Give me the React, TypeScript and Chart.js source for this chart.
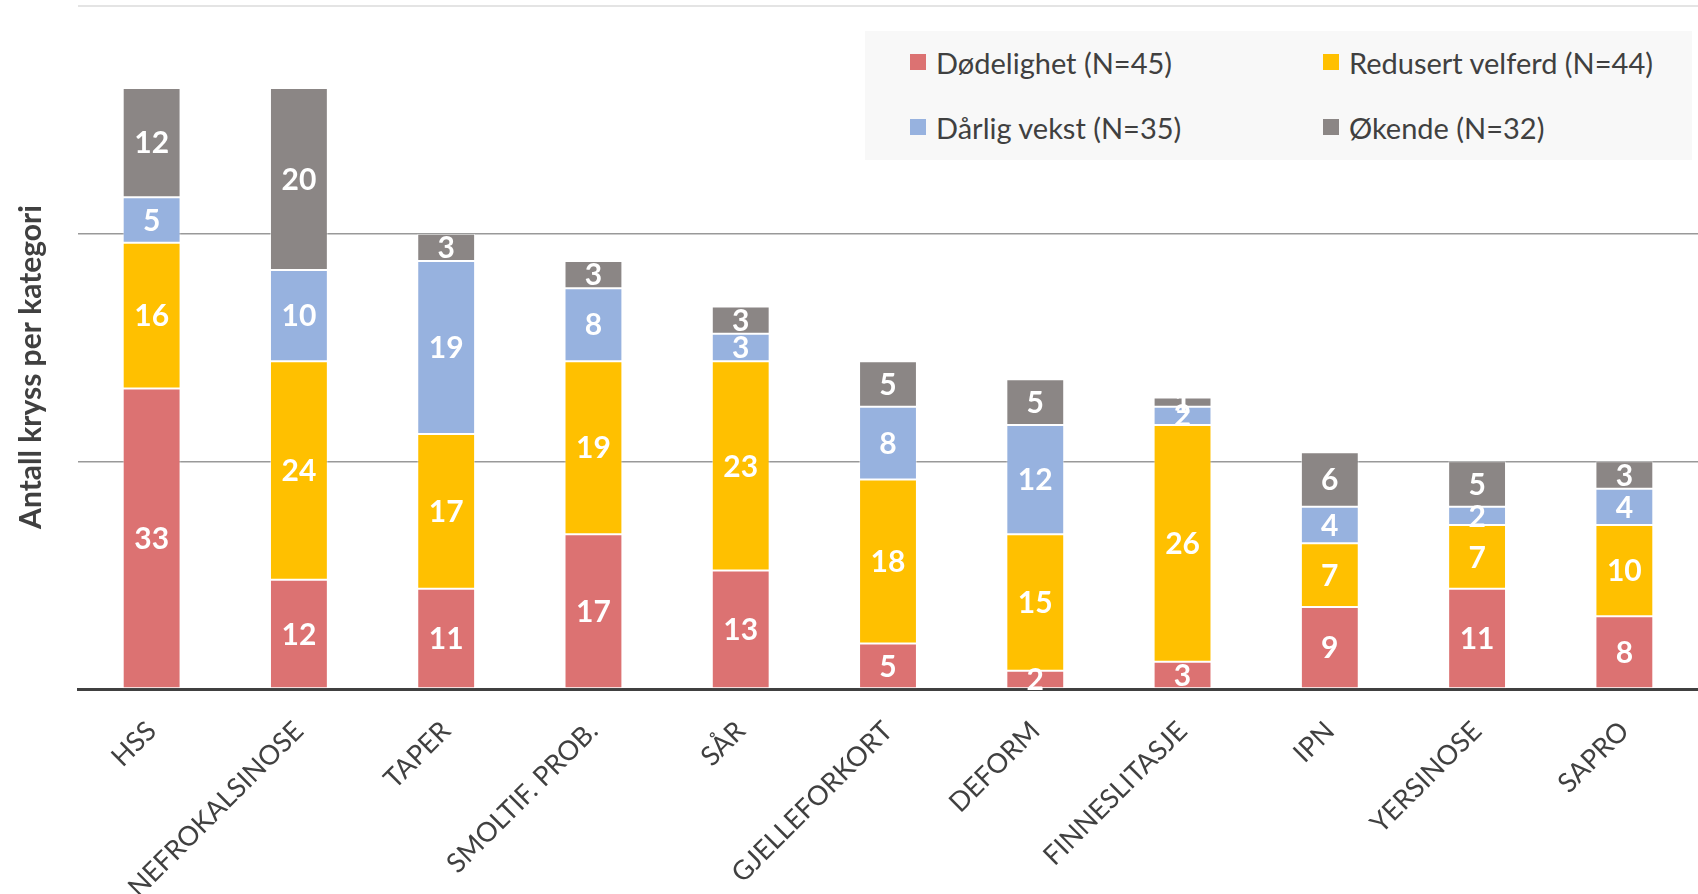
import React, { useEffect, useRef } from 'react';
import { Chart, registerables } from 'chart.js';

Chart.register(...registerables);

const categories = ['HSS', 'NEFROKALSINOSE', 'TAPER', 'SMOLTIF. PROB.', 'SÅR', 'GJELLEFORKORT', 'DEFORM', 'FINNESLITASJE', 'IPN', 'YERSINOSE', 'SAPRO'];
const dodelighet = [33, 12, 11, 17, 13, 5, 2, 3, 9, 11, 8];
const redusertVelferd = [16, 24, 17, 19, 23, 18, 15, 26, 7, 7, 10];
const darligVekst = [5, 10, 19, 8, 3, 8, 12, 2, 4, 2, 4];
const okende = [12, 20, 3, 3, 3, 5, 5, 1, 6, 5, 3];
const seriesLabels = ['Dødelighet (N=45)', 'Redusert velferd (N=44)', 'Dårlig vekst (N=35)', 'Økende (N=32)'];
const seriesColors = ['#DC7272', '#FFC000', '#97B2DF', '#8B8685'];
const yMin = 0;
const yMax = 75;
const yStep = 25;
const yTitle = 'Antall kryss per kategori';

const FONT = 'Lato, "Open Sans", sans-serif';
const TEXT = '#404040';

const yTitlePlugin = {
  id: 'yTitlePlugin',
  afterDraw(chart: any) {
    const { ctx } = chart;
    ctx.save();
    ctx.translate(31, 367);
    ctx.rotate(-Math.PI / 2);
    ctx.font = `bold 30px ${FONT}`;
    ctx.fillStyle = TEXT;
    ctx.textAlign = 'center';
    ctx.textBaseline = 'middle';
    ctx.fillText(yTitle, 0, 0);
    ctx.restore();
  },
};

const valueLabelPlugin = {
  id: 'valueLabelPlugin',
  afterDraw(chart: any) {
    const { ctx } = chart;
    ctx.save();
    ctx.font = `bold 30px ${FONT}`;
    ctx.fillStyle = '#FFFFFF';
    ctx.textAlign = 'center';
    ctx.textBaseline = 'middle';
    chart.data.datasets.forEach((ds: any, di: number) => {
      const meta = chart.getDatasetMeta(di);
      meta.data.forEach((el: any, i: number) => {
        const v = ds.data[i];
        if (!v) return;
        const y = (el.y + el.base) / 2;
        ctx.fillText(String(v), el.x, y + 1);
      });
    });
    ctx.restore();
  },
};

export default function App() {
  const ref = useRef<HTMLCanvasElement | null>(null);

  useEffect(() => {
    if (!ref.current) return;
    const seriesData = [dodelighet, redusertVelferd, darligVekst, okende];
    const chart = new Chart(ref.current, {
      type: 'bar',
      data: {
        labels: categories,
        datasets: seriesData.map((d, i) => ({
          label: seriesLabels[i],
          data: d,
          backgroundColor: seriesColors[i],
          borderColor: 'rgba(255,255,255,0.45)',
          borderWidth: 1,
          borderSkipped: false,
          categoryPercentage: 1,
          barPercentage: 0.393,
        })),
      },
      options: {
        responsive: false,
        animation: false,
        devicePixelRatio: 1,
        layout: { padding: { top: 6, left: 0, right: 0, bottom: 0 } },
        plugins: {
          legend: { display: false },
          tooltip: { enabled: false },
        },
        scales: {
          x: {
            stacked: true,
            z: 1,
            grid: { display: false, drawTicks: false },
            border: { display: true, color: '#404040', width: 3 },
            ticks: {
              autoSkip: false,
              minRotation: 45,
              maxRotation: 45,
              padding: 26,
              color: TEXT,
              font: { family: FONT, size: 27 },
            },
            afterFit(scale: any) {
              scale.height = 205;
              scale.paddingLeft = 0;
              scale.paddingRight = 0;
            },
          },
          y: {
            stacked: true,
            min: yMin,
            max: yMax,
            z: 1,
            ticks: { display: false, stepSize: yStep },
            border: { display: false },
            grid: {
              drawTicks: false,
              lineWidth: (c: any) => (c.tick && c.tick.value === yMax ? 2 : 1.5),
              color: (c: any) => (c.tick && c.tick.value === yMax ? '#E4E4E4' : 'rgba(70,70,70,0.55)'),
            },
            afterFit(scale: any) {
              scale.width = 78;
            },
          },
        },
      },
      plugins: [valueLabelPlugin, yTitlePlugin],
    });
    return () => chart.destroy();
  }, []);

  const legendItems = seriesLabels.map((label, i) => ({ label, color: seriesColors[i] }));
  const colX = [45, 458];
  const rowY = [31, 96];

  return (
    <div style={{ position: 'absolute', left: 0, top: 0, width: 1698, height: 894, background: '#fff', overflow: 'hidden' }}>
      <canvas ref={ref} width={1698} height={894} style={{ position: 'absolute', left: 0, top: 0, width: 1698, height: 894 }} />
      <div
        style={{
          position: 'absolute',
          left: 865,
          top: 31,
          width: 827,
          height: 129,
          background: '#F8F8F8',
          fontFamily: FONT,
          fontSize: 29,
          color: TEXT,
        }}
      >
        {legendItems.map((it, i) => (
          <div
            key={it.label}
            style={{
              position: 'absolute',
              left: colX[i % 2],
              top: rowY[Math.floor(i / 2)] - 20,
              height: 40,
              display: 'flex',
              alignItems: 'center',
              whiteSpace: 'nowrap',
            }}
          >
            <span style={{ display: 'inline-block', width: 16, height: 16, background: it.color, marginRight: 10 }} />
            <span>{it.label}</span>
          </div>
        ))}
      </div>
    </div>
  );
}
